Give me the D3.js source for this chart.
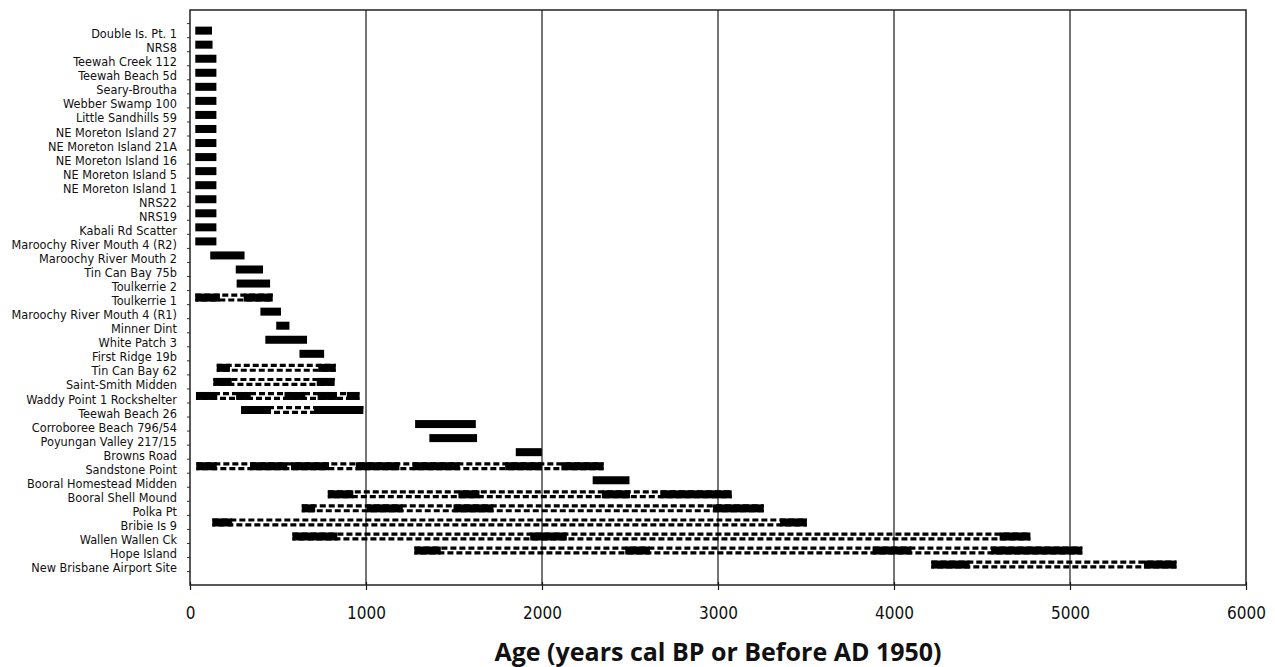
<!DOCTYPE html>
<html>
<head>
<meta charset="utf-8">
<script src="https://cdn.jsdelivr.net/npm/d3@7"></script>
<style>
body { margin:0; background:#fff; }
svg { display:block; }
.narrow { font-family:"Liberation Sans Narrow","DejaVu Sans Condensed",sans-serif; fill:#111; }
.title { font-family:"Open Sans",sans-serif; font-weight:bold; fill:#111; }
</style>
</head>
<body>
<svg id="chart"></svg>
<script>
// sites from youngest (top) to oldest (bottom)
var sites = [
    "Double Is. Pt. 1","NRS8","Teewah Creek 112","Teewah Beach 5d","Seary-Broutha",
    "Webber Swamp 100","Little Sandhills 59","NE Moreton Island 27","NE Moreton Island 21A",
    "NE Moreton Island 16","NE Moreton Island 5","NE Moreton Island 1","NRS22","NRS19",
    "Kabali Rd Scatter","Maroochy River Mouth 4 (R2)","Maroochy River Mouth 2","Tin Can Bay 75b",
    "Toulkerrie 2","Toulkerrie 1","Maroochy River Mouth 4 (R1)","Minner Dint","White Patch 3",
    "First Ridge 19b","Tin Can Bay 62","Saint-Smith Midden","Waddy Point 1 Rockshelter",
    "Teewah Beach 26","Corroboree Beach 796/54","Poyungan Valley 217/15","Browns Road",
    "Sandstone Point","Booral Homestead Midden","Booral Shell Mound","Polka Pt","Bribie Is 9",
    "Wallen Wallen Ck","Hope Island","New Brisbane Airport Site"
];

// occupation phases (solid) per site, [from, to] in years cal BP; gaps between are dashed
var phases = [
    [[30,125]], [[30,128]], [[30,150]], [[30,150]], [[30,150]],
    [[30,150]], [[30,150]], [[30,150]], [[30,150]],
    [[30,150]], [[30,150]], [[30,150]], [[30,150]], [[30,150]],
    [[30,150]], [[30,150]], [[115,310]], [[260,415]],
    [[265,455]], [[30,170],[305,470]], [[400,517]], [[490,565]], [[428,665]],
    [[622,762]], [[152,227],[729,828]], [[133,237],[720,822]],
    [[34,155],[262,345],[537,655],[725,835],[891,963]],
    [[290,460],[705,985]], [[1279,1624]], [[1360,1631]], [[1851,1999]],
    [[36,152],[341,553],[574,790],[942,1190],[1264,1533],[1791,1999],[2110,2350]],
    [[2288,2497]],
    [[783,928],[1525,1645],[2340,2500],[2672,3078]],
    [[635,711],[1004,1209],[1497,1724],[2972,3260]],
    [[127,240],[3352,3505]],
    [[582,837],[1933,2141],[4600,4775]],
    [[1275,1425],[2473,2613],[3878,4100],[4552,5070]],
    [[4212,4430],[5420,5605]]
];

var xTicks = [0,1000,2000,3000,4000,5000,6000];
var xTitle = "Age (years cal BP or Before AD 1950)";

var screen = {width:1275, height:667};
var plot = {left:190, right:1246, top:10, bottom:585};
var barH = 8;

var svg = d3.select("#chart")
    .attr("width", screen.width)
    .attr("height", screen.height);

var xScale = d3.scaleLinear()
    .domain([0,6000])
    .range([plot.left, plot.right]);

var yScale = d3.scaleBand()
    .domain(sites)
    .range([23.6, 571.6]);

var bw = yScale.bandwidth();

// vertical grid lines
svg.append("g")
    .selectAll("line")
    .data(xTicks.slice(1, -1))
    .enter()
    .append("line")
    .attr("x1", function(d){ return xScale(d); })
    .attr("x2", function(d){ return xScale(d); })
    .attr("y1", plot.top)
    .attr("y2", plot.bottom)
    .attr("stroke", "#1a1a1a")
    .attr("stroke-width", 1.2);

// one group per site
var rows = svg.append("g")
    .selectAll("g")
    .data(sites.map(function(s, i){ return {site:s, phases:phases[i]}; }))
    .enter()
    .append("g")
    .attr("transform", function(d){ return "translate(0," + (yScale(d.site) + (bw - barH)/2) + ")"; });

// dashed span from first to last phase (two staggered rows of dashes)
var spans = rows.filter(function(d){ return d.phases.length > 1; });
var spanX1 = function(d){ return xScale(d.phases[0][0]); };
var spanX2 = function(d){ return xScale(d.phases[d.phases.length-1][1]); };

spans.append("line")
    .attr("x1", spanX1).attr("x2", spanX2)
    .attr("y1", 1.6).attr("y2", 1.6)
    .attr("stroke", "#000")
    .attr("stroke-width", 3.2)
    .attr("stroke-dasharray", "6,3");

spans.append("line")
    .attr("x1", spanX1).attr("x2", spanX2)
    .attr("y1", barH - 1.6).attr("y2", barH - 1.6)
    .attr("stroke", "#000")
    .attr("stroke-width", 3.2)
    .attr("stroke-dasharray", "6,3")
    .attr("stroke-dashoffset", 3);

// solid phases
rows.selectAll("rect")
    .data(function(d){ return d.phases; })
    .enter()
    .append("rect")
    .attr("x", function(p){ return xScale(p[0]); })
    .attr("width", function(p){ return xScale(p[1]) - xScale(p[0]); })
    .attr("y", 0)
    .attr("height", barH)
    .attr("fill", "#000");

// x axis
var xAxis = d3.axisBottom(xScale)
    .tickValues(xTicks)
    .tickSizeInner(5)
    .tickSizeOuter(0)
    .tickFormat(d3.format("d"));

var xg = svg.append("g")
    .attr("transform", "translate(0," + plot.bottom + ")")
    .call(xAxis);
xg.select(".domain").remove();
xg.selectAll(".tick line").attr("y1", -3).attr("stroke", "#1a1a1a").attr("stroke-width", 1.2);
xg.selectAll(".tick text")
    .attr("class", "narrow")
    .attr("y", 21.5)
    .style("font-size", "17px");

// y axis labels
var yAxis = d3.axisLeft(yScale)
    .tickSize(0)
    .tickPadding(13);

var yg = svg.append("g")
    .attr("transform", "translate(" + plot.left + ",0)")
    .call(yAxis);
yg.select(".domain").remove();
yg.selectAll(".tick text")
    .attr("class", "narrow")
    .attr("dy", "0.6em")
    .style("font-size", "12.6px");

// y ticks on band boundaries
var bounds = sites.map(function(s){ return yScale(s); }).concat([yScale(sites[sites.length-1]) + bw]);
svg.append("g")
    .selectAll("line")
    .data(bounds)
    .enter()
    .append("line")
    .attr("x1", plot.left - 3)
    .attr("x2", plot.left)
    .attr("y1", function(d){ return d; })
    .attr("y2", function(d){ return d; })
    .attr("stroke", "#333")
    .attr("stroke-width", 1);

// frame
svg.append("rect")
    .attr("x", plot.left)
    .attr("y", plot.top)
    .attr("width", plot.right - plot.left)
    .attr("height", plot.bottom - plot.top)
    .attr("fill", "none")
    .attr("stroke", "#222")
    .attr("stroke-width", 1.5);

// axis title
svg.append("text")
    .attr("class", "title")
    .attr("x", (plot.left + plot.right)/2)
    .attr("y", 661)
    .attr("text-anchor", "middle")
    .style("font-size", "25px")
    .text(xTitle);
</script>
</body>
</html>
